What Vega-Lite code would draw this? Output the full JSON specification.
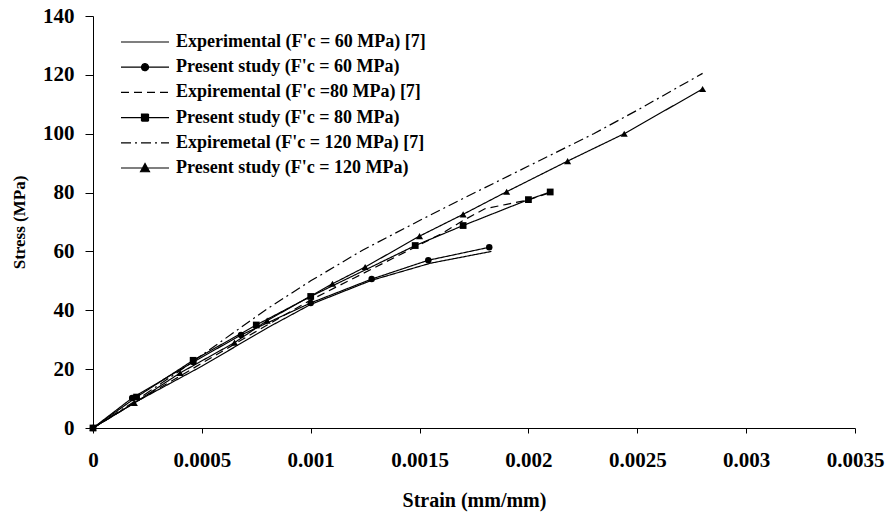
{
  "$schema": "https://vega.github.io/schema/vega-lite/v6.json",
  "width": 762,
  "height": 412,
  "autosize": {"type": "none"},
  "padding": {"left": 93, "top": 16, "right": 34, "bottom": 84},
  "background": "white",
  "config": {
    "view": {"stroke": null},
    "font": "Liberation Serif",
    "axis": {"grid": false, "domainColor": "black", "tickColor": "black", "labelColor": "black", "titleColor": "black", "labelFont": "Liberation Serif", "titleFont": "Liberation Serif", "labelFontWeight": "bold", "titleFontWeight": "bold", "domainWidth": 1, "tickWidth": 1},
    "legend": {"labelFont": "Liberation Serif", "labelFontWeight": "bold", "labelColor": "black"}
  },
  "data": {
    "values": [
      {"series": "Experimental (F'c = 60 MPa) [7]", "strain": 0, "stress": 0},
      {"series": "Experimental (F'c = 60 MPa) [7]", "strain": 0.0002, "stress": 9},
      {"series": "Experimental (F'c = 60 MPa) [7]", "strain": 0.0005, "stress": 21},
      {"series": "Experimental (F'c = 60 MPa) [7]", "strain": 0.0008, "stress": 34},
      {"series": "Experimental (F'c = 60 MPa) [7]", "strain": 0.001, "stress": 42},
      {"series": "Experimental (F'c = 60 MPa) [7]", "strain": 0.00128, "stress": 50.2},
      {"series": "Experimental (F'c = 60 MPa) [7]", "strain": 0.00155, "stress": 56},
      {"series": "Experimental (F'c = 60 MPa) [7]", "strain": 0.00183, "stress": 60},

      {"series": "Present study (F'c = 60 MPa)", "strain": 0, "stress": 0},
      {"series": "Present study (F'c = 60 MPa)", "strain": 0.00018, "stress": 10.2},
      {"series": "Present study (F'c = 60 MPa)", "strain": 0.00046, "stress": 22.4},
      {"series": "Present study (F'c = 60 MPa)", "strain": 0.00068, "stress": 31.6},
      {"series": "Present study (F'c = 60 MPa)", "strain": 0.001, "stress": 42.5},
      {"series": "Present study (F'c = 60 MPa)", "strain": 0.00128, "stress": 50.6},
      {"series": "Present study (F'c = 60 MPa)", "strain": 0.00154, "stress": 57},
      {"series": "Present study (F'c = 60 MPa)", "strain": 0.00182, "stress": 61.4},

      {"series": "Expiremental (F'c =80 MPa) [7]", "strain": 0, "stress": 0},
      {"series": "Expiremental (F'c =80 MPa) [7]", "strain": 0.0002, "stress": 9},
      {"series": "Expiremental (F'c =80 MPa) [7]", "strain": 0.0005, "stress": 22},
      {"series": "Expiremental (F'c =80 MPa) [7]", "strain": 0.0008, "stress": 35},
      {"series": "Expiremental (F'c =80 MPa) [7]", "strain": 0.001, "stress": 43.5},
      {"series": "Expiremental (F'c =80 MPa) [7]", "strain": 0.0012, "stress": 51},
      {"series": "Expiremental (F'c =80 MPa) [7]", "strain": 0.0014, "stress": 58.5},
      {"series": "Expiremental (F'c =80 MPa) [7]", "strain": 0.0016, "stress": 66},
      {"series": "Expiremental (F'c =80 MPa) [7]", "strain": 0.0017, "stress": 70.5},
      {"series": "Expiremental (F'c =80 MPa) [7]", "strain": 0.0018, "stress": 74.5},
      {"series": "Expiremental (F'c =80 MPa) [7]", "strain": 0.0019, "stress": 76},
      {"series": "Expiremental (F'c =80 MPa) [7]", "strain": 0.002, "stress": 77.5},
      {"series": "Expiremental (F'c =80 MPa) [7]", "strain": 0.0021, "stress": 80},

      {"series": "Present study (F'c = 80 MPa)", "strain": 0, "stress": 0},
      {"series": "Present study (F'c = 80 MPa)", "strain": 0.0002, "stress": 10.5},
      {"series": "Present study (F'c = 80 MPa)", "strain": 0.00046, "stress": 23},
      {"series": "Present study (F'c = 80 MPa)", "strain": 0.00075, "stress": 35},
      {"series": "Present study (F'c = 80 MPa)", "strain": 0.001, "stress": 44.7},
      {"series": "Present study (F'c = 80 MPa)", "strain": 0.00148, "stress": 62},
      {"series": "Present study (F'c = 80 MPa)", "strain": 0.0017, "stress": 68.8},
      {"series": "Present study (F'c = 80 MPa)", "strain": 0.002, "stress": 77.6},
      {"series": "Present study (F'c = 80 MPa)", "strain": 0.0021, "stress": 80.2},

      {"series": "Expiremetal (F'c = 120 MPa) [7]", "strain": 0, "stress": 0},
      {"series": "Expiremetal (F'c = 120 MPa) [7]", "strain": 0.0002, "stress": 9.5},
      {"series": "Expiremetal (F'c = 120 MPa) [7]", "strain": 0.0004, "stress": 19.5},
      {"series": "Expiremetal (F'c = 120 MPa) [7]", "strain": 0.0006, "stress": 30},
      {"series": "Expiremetal (F'c = 120 MPa) [7]", "strain": 0.0008, "stress": 40.5},
      {"series": "Expiremetal (F'c = 120 MPa) [7]", "strain": 0.001, "stress": 50},
      {"series": "Expiremetal (F'c = 120 MPa) [7]", "strain": 0.00124, "stress": 60.5},
      {"series": "Expiremetal (F'c = 120 MPa) [7]", "strain": 0.0015, "stress": 70.5},
      {"series": "Expiremetal (F'c = 120 MPa) [7]", "strain": 0.0017, "stress": 78},
      {"series": "Expiremetal (F'c = 120 MPa) [7]", "strain": 0.002, "stress": 89},
      {"series": "Expiremetal (F'c = 120 MPa) [7]", "strain": 0.0023, "stress": 100},
      {"series": "Expiremetal (F'c = 120 MPa) [7]", "strain": 0.0025, "stress": 108},
      {"series": "Expiremetal (F'c = 120 MPa) [7]", "strain": 0.0028, "stress": 120.5},

      {"series": "Present study (F'c = 120 MPa)", "strain": 0, "stress": 0},
      {"series": "Present study (F'c = 120 MPa)", "strain": 0.00019, "stress": 8.5},
      {"series": "Present study (F'c = 120 MPa)", "strain": 0.0004, "stress": 18.7},
      {"series": "Present study (F'c = 120 MPa)", "strain": 0.00065, "stress": 29},
      {"series": "Present study (F'c = 120 MPa)", "strain": 0.0008, "stress": 36.5},
      {"series": "Present study (F'c = 120 MPa)", "strain": 0.0011, "stress": 49},
      {"series": "Present study (F'c = 120 MPa)", "strain": 0.00125, "stress": 54.7},
      {"series": "Present study (F'c = 120 MPa)", "strain": 0.0015, "stress": 65.2},
      {"series": "Present study (F'c = 120 MPa)", "strain": 0.0017, "stress": 72.6},
      {"series": "Present study (F'c = 120 MPa)", "strain": 0.0019, "stress": 80.3},
      {"series": "Present study (F'c = 120 MPa)", "strain": 0.00218, "stress": 90.7},
      {"series": "Present study (F'c = 120 MPa)", "strain": 0.00244, "stress": 100},
      {"series": "Present study (F'c = 120 MPa)", "strain": 0.0028, "stress": 115.2}
    ]
  },
  "encoding": {
    "x": {
      "field": "strain", "type": "quantitative",
      "scale": {"domain": [0, 0.0035], "nice": false, "zero": false},
      "axis": {"values": [0, 0.0005, 0.001, 0.0015, 0.002, 0.0025, 0.003, 0.0035], "labelExpr": "'' + datum.value", "tickSize": 5, "labelFontSize": 21, "labelPadding": 16, "title": "Strain (mm/mm)", "titleFontSize": 20, "titlePadding": 20, "labelFlush": false, "labelOverlap": false}
    },
    "y": {
      "field": "stress", "type": "quantitative",
      "scale": {"domain": [0, 140], "nice": false},
      "axis": {"values": [0, 20, 40, 60, 80, 100, 120, 140], "tickSize": 8, "labelFontSize": 21, "labelPadding": 11, "title": "Stress (MPa)", "titleFontSize": 17, "titlePadding": 14}
    }
  },
  "layer": [
    {
      "mark": {"type": "line", "color": "black", "strokeWidth": 1.2},
      "encoding": {
        "strokeDash": {
          "field": "series", "type": "nominal",
          "scale": {
            "domain": ["Experimental (F'c = 60 MPa) [7]", "Present study (F'c = 60 MPa)", "Expiremental (F'c =80 MPa) [7]", "Present study (F'c = 80 MPa)", "Expiremetal (F'c = 120 MPa) [7]", "Present study (F'c = 120 MPa)"],
            "range": [[1, 0], [1, 0], [8, 5], [1, 0], [10, 4, 2, 4], [1, 0]]
          },
          "legend": {
            "title": null,
            "orient": "none",
            "legendX": 18,
            "legendY": 17,
            "labelFontSize": 18,
            "labelLimit": 500,
            "labelOffset": 47,
            "rowPadding": 7.2,
            "symbolSize": 100,
            "symbolStrokeWidth": 1.2,
            "symbolStrokeColor": "black",
            "encode": {
              "symbols": {
                "update": {
                  "shape": {"signal": "['M0.2,0H9.8', 'M0.2,0H9.8M5.7,0A0.7,0.7,0,1,1,4.3,0A0.7,0.7,0,1,1,5.7,0Z', 'M0.2,0H9.8', 'M0.2,0H9.8M4.3,-0.7H5.7V0.7H4.3Z', 'M0.2,0H9.8', 'M0.2,0H9.8M5,-0.9L5.9,0.75H4.1Z'][datum.index]"},
                  "fill": {"value": "black"},
                  "fillOpacity": {"value": 1},
                  "stroke": {"value": "black"},
                  "strokeWidth": {"value": 1.2},
                  "opacity": {"value": 1}
                }
              }
            }
          }
        }
      }
    },
    {
      "transform": [{"filter": {"field": "series", "oneOf": ["Present study (F'c = 60 MPa)", "Present study (F'c = 80 MPa)", "Present study (F'c = 120 MPa)"]}}],
      "mark": {"type": "point", "filled": true, "color": "black", "opacity": 1},
      "encoding": {
        "shape": {
          "field": "series", "type": "nominal",
          "scale": {"domain": ["Present study (F'c = 60 MPa)", "Present study (F'c = 80 MPa)", "Present study (F'c = 120 MPa)"], "range": ["circle", "square", "triangle-up"]},
          "legend": null
        },
        "size": {
          "field": "series", "type": "nominal",
          "scale": {"domain": ["Present study (F'c = 60 MPa)", "Present study (F'c = 80 MPa)", "Present study (F'c = 120 MPa)"], "range": [42, 50, 75]},
          "legend": null
        }
      }
    },
    {
      "mark": {"type": "rule", "color": "black", "strokeWidth": 1},
      "data": {"values": [{"edge": 0.0035}]},
      "encoding": {"x": {"field": "edge", "type": "quantitative"}, "y": {"datum": 0}, "y2": {"datum": 140}}
    }
  ]
}
